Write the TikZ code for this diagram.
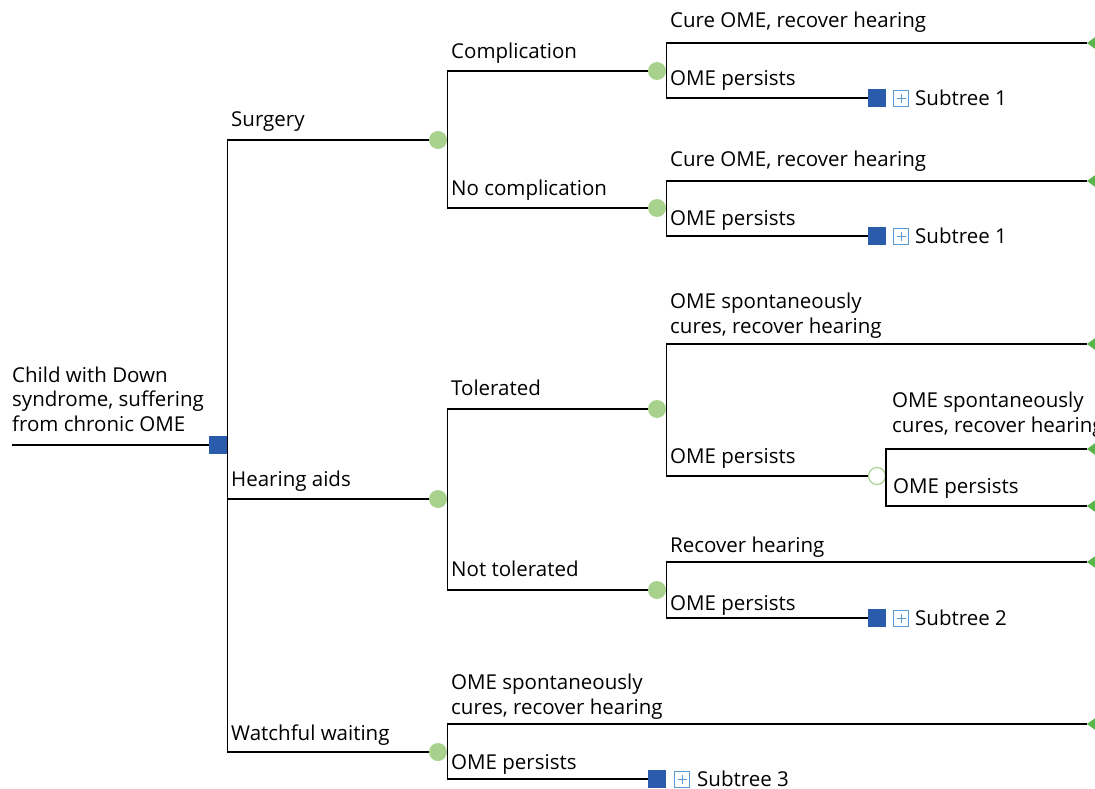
\documentclass[tikz,border=0pt]{standalone}
\usepackage{fontspec}
\setmainfont{Open Sans}
\definecolor{nodeblue}{HTML}{2B5CAB}
\definecolor{chancegreen}{HTML}{A9D18E}
\definecolor{termgreen}{HTML}{5AB54B}
\definecolor{plusblue}{HTML}{5B9BD5}
\begin{document}
\begin{tikzpicture}[x=1pt,y=-1pt,
  edge/.style={line width=1.3pt, black},
  decision/.style={rectangle, fill=nodeblue, minimum size=18pt, inner sep=0pt},
  chance/.style={circle, fill=chancegreen, minimum size=18pt, inner sep=0pt},
  openchance/.style={circle, draw=chancegreen, fill=white, line width=1.2pt, minimum size=17pt, inner sep=0pt},
  terminal/.style={fill=termgreen},
  plusbox/.style={rectangle, draw=plusblue, line width=0.9pt, minimum size=15.5pt, inner sep=0pt,
    path picture={\draw[plusblue, line width=0.8pt]
      ([xshift=-4.5pt]path picture bounding box.center) -- ([xshift=4.5pt]path picture bounding box.center)
      ([yshift=-4.5pt]path picture bounding box.center) -- ([yshift=4.5pt]path picture bounding box.center);}},
  lbl/.style={anchor=base west, inner sep=0pt, align=left, font=\fontsize{20.5}{24.5}\selectfont},
]
\useasboundingbox (0,0) rectangle (1095,789);

% decision and chance nodes
\coordinate (start) at (12,445);
\node[decision] (root) at (218,445) {};
\node[chance] (surg) at (438,140) {};
\node[chance] (aids) at (438,499) {};
\node[chance] (wait) at (438,752) {};
\node[chance] (comp) at (657,71) {};
\node[chance] (nocomp) at (657,208) {};
\node[chance] (tol) at (657,409) {};
\node[chance] (ntol) at (657,590) {};
\node[openchance] (tolp) at (877,476) {};
\node[decision] (sub1a) at (877,98) {};
\node[decision] (sub1b) at (877,236) {};
\node[decision] (sub2) at (877,618) {};
\node[decision] (sub3) at (657,779) {};

% terminal nodes at the right edge
\foreach \n/\y in {tcomp/43, tnocomp/181, ttol/344, ttolpa/449, ttolpb/506, tntol/562, twait/724} {
  \coordinate (\n) at (1087,\y);
  \fill[terminal] (\n) -- ++(9,-6.5) -- ++(0,13) -- cycle;
}

% connectors
\draw[edge] (start) -- (root.west);
\draw[edge] (root.east) |- (surg.west);
\draw[edge] (root.east) |- (aids.west);
\draw[edge] (root.east) |- (wait.west);
\draw[edge] (surg.east) |- (comp.west);
\draw[edge] (surg.east) |- (nocomp.west);
\draw[edge] (aids.east) |- (tol.west);
\draw[edge] (aids.east) |- (ntol.west);
\draw[edge] (wait.east) |- (twait);
\draw[edge] (wait.east) |- (sub3.west);
\draw[edge] (comp.east) |- (tcomp);
\draw[edge] (comp.east) |- (sub1a.west);
\draw[edge] (nocomp.east) |- (tnocomp);
\draw[edge] (nocomp.east) |- (sub1b.west);
\draw[edge] (tol.east) |- (ttol);
\draw[edge] (tol.east) |- (tolp.west);
\draw[edge] (tolp.east) |- (ttolpa);
\draw[edge] (tolp.east) |- (ttolpb);
\draw[edge] (ntol.east) |- (tntol);
\draw[edge] (ntol.east) |- (sub2.west);

% subtree references
\node[plusbox] (p1a) at (901,98.5) {};
\node[lbl] (s1a) at (915,105.5) {Subtree 1};
\node[plusbox] (p1b) at (901,236.5) {};
\node[lbl] (s1b) at (915,243.5) {Subtree 1};
\node[plusbox] (p2) at (901,618.5) {};
\node[lbl] (s2) at (915,625.5) {Subtree 2};
\node[plusbox] (p3) at (682,779.5) {};
\node[lbl] (s3) at (697,786.5) {Subtree 3};

% branch labels (base = baseline of the last line)
\node[lbl] (lroot) at (12,431) {Child with Down\\syndrome, suffering\\from chronic OME};
\node[lbl] (lsurg) at (231,127) {Surgery};
\node[lbl] (laids) at (231,486) {Hearing aids};
\node[lbl] (lwait) at (231,740) {Watchful waiting};
\node[lbl] (lcomp) at (451,59) {Complication};
\node[lbl] (lnocomp) at (451,195) {No complication};
\node[lbl] (ltol) at (451,395) {Tolerated};
\node[lbl] (lntol) at (451,576) {Not tolerated};
\node[lbl] (lwaitc) at (451,714) {OME spontaneously\\cures, recover hearing};
\node[lbl] (lwaitp) at (451,769) {OME persists};
\node[lbl] (lcompc) at (670,28) {Cure OME, recover hearing};
\node[lbl] (lcompp) at (670,86) {OME persists};
\node[lbl] (lnocc) at (670,166) {Cure OME, recover hearing};
\node[lbl] (lnocp) at (670,225) {OME persists};
\node[lbl] (ltolc) at (670,333) {OME spontaneously\\cures, recover hearing};
\node[lbl] (ltolp) at (670,463) {OME persists};
\node[lbl] (ltolpc) at (892,432) {OME spontaneously\\cures, recover hearing};
\node[lbl] (ltolpp) at (893,493) {OME persists};
\node[lbl] (lntolc) at (670,552) {Recover hearing};
\node[lbl] (lntolp) at (670,610) {OME persists};
\end{tikzpicture}
\end{document}
